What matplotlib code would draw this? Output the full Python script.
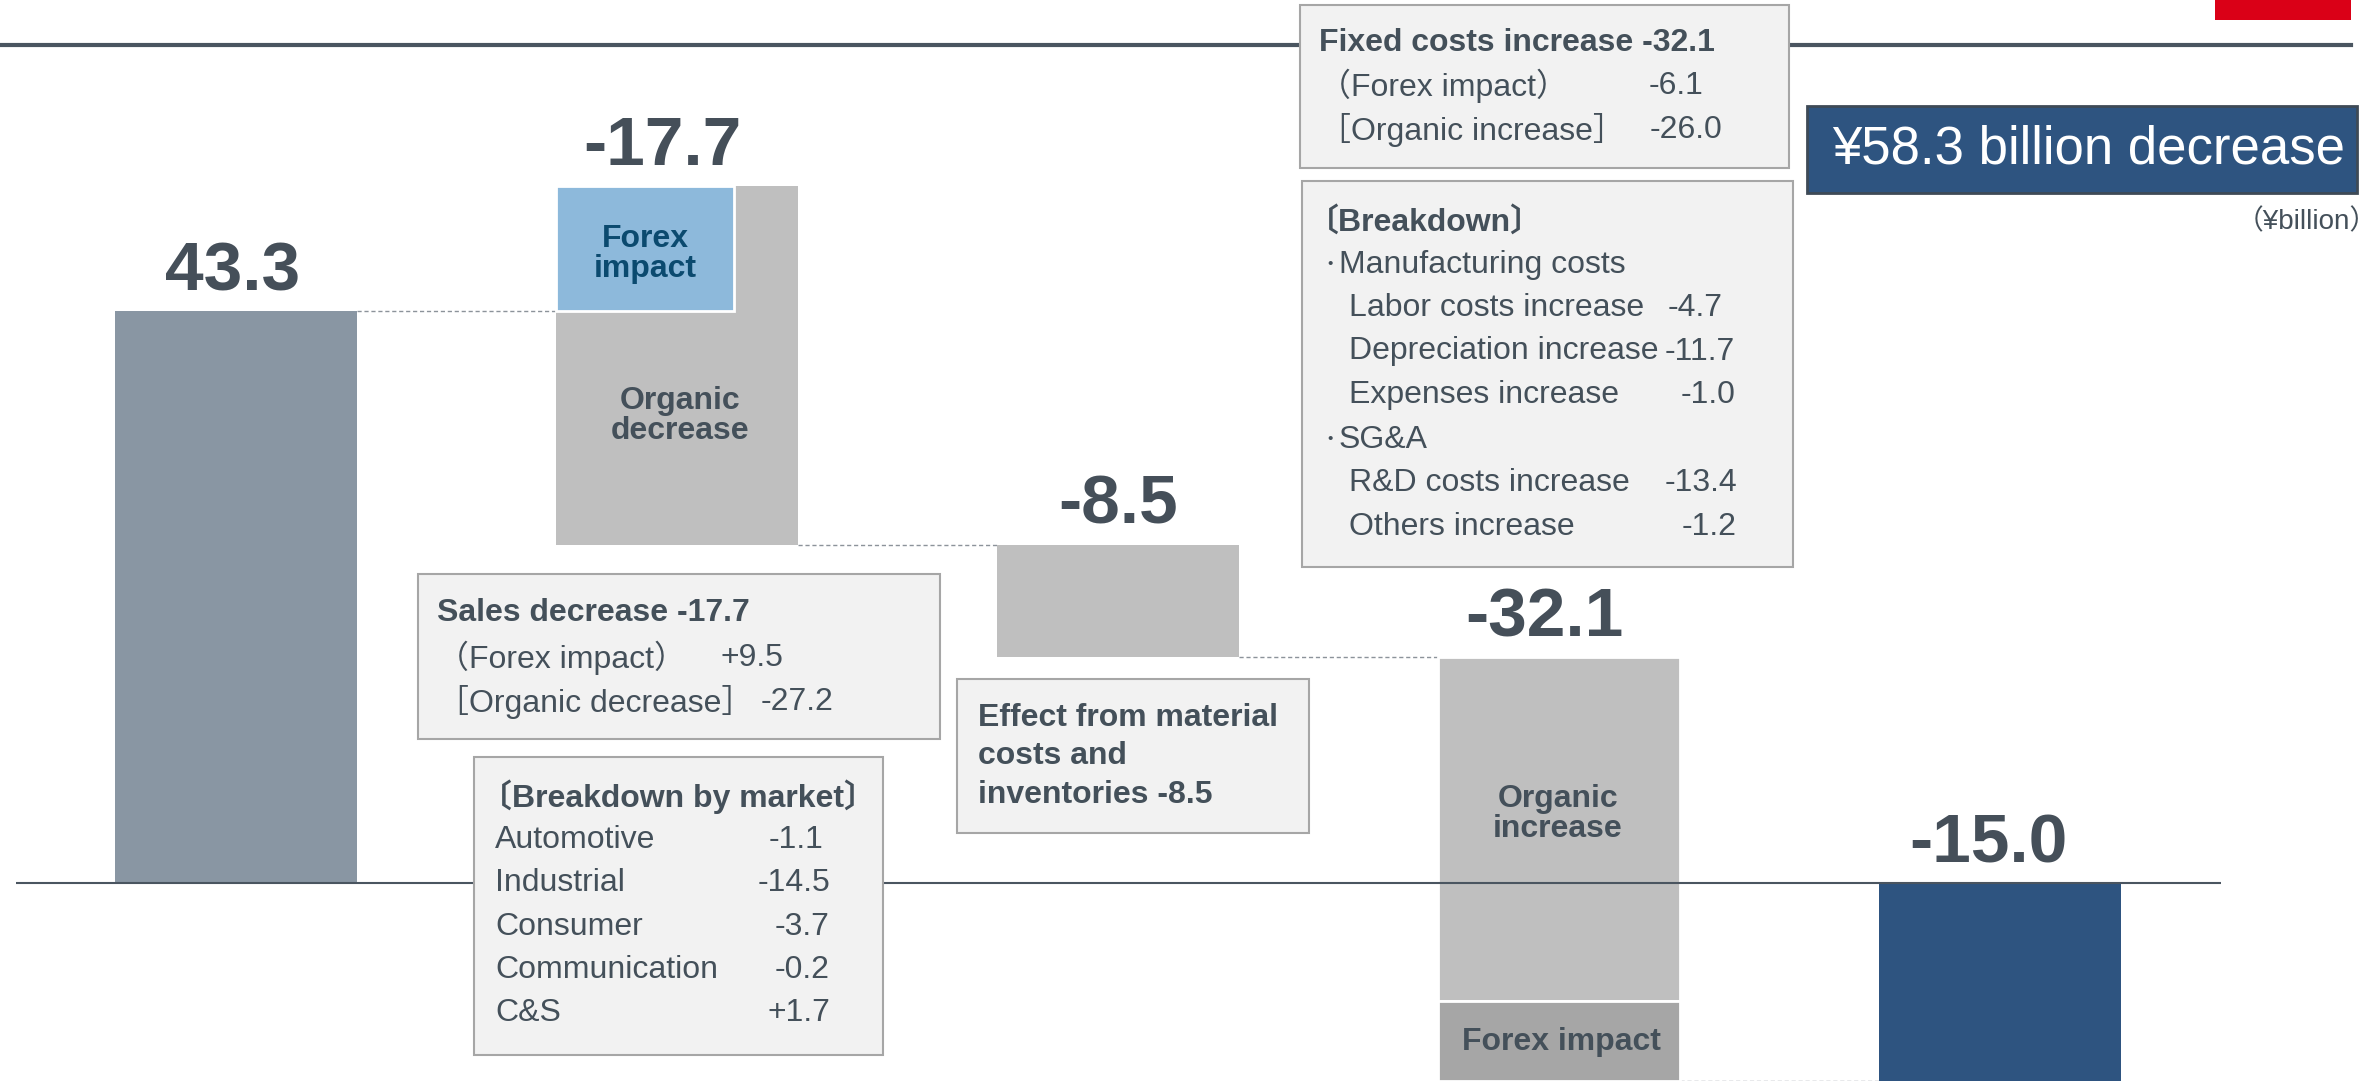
import matplotlib
matplotlib.use('agg')
import matplotlib.pyplot as plt
from matplotlib.patches import Rectangle

plt.rcParams['font.family'] = ['Liberation Sans', 'Noto Sans CJK JP']

# ---- data (¥billion) ----
start_value = 43.3
sales_forex = 9.5
sales_organic = -27.2
material = -8.5
fixed_organic = -26.0
fixed_forex = -6.1
end_value = -15.0
bar_labels = ['43.3', '-17.7', '-8.5', '-32.1', '-15.0']

markets = ['Automotive', 'Industrial', 'Consumer', 'Communication', 'C&S']
market_vals = ['-1.1', '-14.5', '-3.7', '-0.2', '+1.7']

mfg_items = ['Labor costs increase', 'Depreciation increase', 'Expenses increase']
mfg_vals = ['-4.7', '-11.7', '-1.0']
sga_items = ['R&D costs increase', 'Others increase']
sga_vals = ['-13.4', '-1.2']

# ---- levels ----
lvl1 = start_value
lvl2 = lvl1 + sales_forex + sales_organic
lvl3 = lvl2 + material
lvl4 = lvl3 + fixed_organic + fixed_forex

W, H = 2374, 1081
TXT = '#44505A'
GRAY = '#BFBFBF'
BOXFC = '#F2F2F2'
BOXEC = '#A6A6A6'

fig = plt.figure(figsize=(W / 100, H / 100), dpi=100)
ax = fig.add_axes([0, 0, 1, 1])
ax.axis('off')
ax.set_xlim(-236 / 441, (W - 236) / 441)
ax.set_ylim(-(H - 883) / 13.21, 883 / 13.21)

w = 0.551
ax.bar(0, start_value, width=w, color='#8996A3', zorder=2)
ax.bar(1, sales_organic, bottom=lvl1 + sales_forex, width=w, color=GRAY, zorder=2)
ax.bar(1 - w / 2, sales_forex, bottom=lvl1, width=0.404, align='edge',
       color='#8DB9DB', edgecolor='white', linewidth=2, zorder=2)
ax.bar(2, material, bottom=lvl2, width=w, color=GRAY, zorder=2)
ax.bar(3, fixed_organic, bottom=lvl3, width=w, color=GRAY,
       edgecolor='white', linewidth=2, zorder=2)
ax.bar(3, fixed_forex, bottom=lvl3 + fixed_organic, width=w, color='#A6A6A6',
       edgecolor='white', linewidth=2, zorder=2)
ax.bar(4, end_value, width=w, color='#2E5480', zorder=2)

# connectors
for i, lv in enumerate([lvl1, lvl2, lvl3, lvl4]):
    ax.plot([i + w / 2, i + 1 - w / 2], [lv, lv], ls=(0, (3, 2)),
            color='#8C939A', lw=1.0, zorder=1)

# zero line
ax.hlines(0, -0.5, 4.5, color='#4A5560', lw=1.5, zorder=3)

# value labels
tops = [start_value, lvl1 + sales_forex, lvl2, lvl3, 0]
dx = [-3, -15, 0, -15, -12]
for i, (t, s) in enumerate(zip(tops, bar_labels)):
    ax.annotate(s, (i, t), xytext=(dx[i] * 0.72, 15), textcoords='offset points',
                ha='center', va='baseline', fontsize=50, fontweight='bold',
                color='#454F59', zorder=5)


def fx(px):
    return px / W


def fy(py):
    return 1 - py / H


def box(x0, y0, x1, y1, fc=BOXFC, ec=BOXEC, lw=1.5, z=4):
    ax.add_patch(Rectangle((fx(x0), fy(y1)), (x1 - x0) / W, (y1 - y0) / H,
                           transform=fig.transFigure, facecolor=fc, edgecolor=ec,
                           linewidth=lw, zorder=z, clip_on=False))


def txt(x, y, s, size=23, bold=False, ha='left', color=TXT, **kw):
    ax.text(fx(x), fy(y), s, transform=fig.transFigure, ha=ha, va='center',
            fontsize=size, fontweight='bold' if bold else 'normal',
            color=color, zorder=5, **kw)


# top rule and red mark (behind the boxes)
ax.plot([0, fx(2351)], [fy(45), fy(45)], transform=fig.transFigure,
        color='#4A5560', lw=3, zorder=1, clip_on=False)
box(2215, -2, 2351, 20, fc='#DA0017', ec='none', lw=0, z=1)

# in-bar labels
txt(645, 254, 'Forex\nimpact', bold=True, ha='center', color='#0B4A6F', linespacing=1.0)
txt(680, 416, 'Organic\ndecrease', bold=True, ha='center', linespacing=1.0)
txt(1558, 814, 'Organic\nincrease', bold=True, ha='center', linespacing=1.0)
txt(1561, 1042, 'Forex impact', bold=True, ha='center')

# fixed costs box
box(1300, 5, 1789, 168)
txt(1319, 43, 'Fixed costs increase -32.1', bold=True)
txt(1319, 86, '（Forex impact）')
txt(1649, 86, '-6.1')
txt(1319, 130, '［Organic increase］')
txt(1650, 130, '-26.0')

# breakdown box
box(1302, 181, 1793, 567)
txt(1307, 222, '〔Breakdown〕', bold=True)
txt(1330, 266, '・', size=14, ha='center')
txt(1339, 265, 'Manufacturing costs')
mfg_right = [1723, 1735, 1735]
for k, (it, v) in enumerate(zip(mfg_items, mfg_vals)):
    y = 308 + k * 43.5
    txt(1349, y, it)
    txt(mfg_right[k], y, v, ha='right')
txt(1330, 441, '・', size=14, ha='center')
txt(1339, 440, 'SG&A')
for k, (it, v) in enumerate(zip(sga_items, sga_vals)):
    y = 483 + k * 44
    txt(1349, y, it)
    txt(1737, y, v, ha='right')

# total box
box(1807, 106, 2357, 193, fc='#2E5480', ec='#3E4A56', lw=2)
txt(1832, 150, '¥58.3 billion decrease', size=38, color='white')
txt(2378, 222, '（¥billion）', size=20, ha='right')

# sales box
box(418, 574, 940, 739)
txt(437, 613, 'Sales decrease -17.7', bold=True)
txt(437, 658, '（Forex impact）')
txt(721, 658, '+9.5')
txt(437, 702, '［Organic decrease］')
txt(761, 702, '-27.2')

# market breakdown box
box(474, 757, 883, 1055)
txt(480, 797, '〔Breakdown by market〕', bold=True)
for k, (m, v) in enumerate(zip(markets, market_vals)):
    y = 840 + k * 43.3
    txt(495, y, m)
    txt(823 if k == 0 else 830, y, v, ha='right')

# material box
box(957, 679, 1309, 833)
for k, line in enumerate(['Effect from material', 'costs and', 'inventories -8.5']):
    txt(978, 718 + k * 38.5, line, bold=True)

fig.savefig('out.png', dpi=100)
